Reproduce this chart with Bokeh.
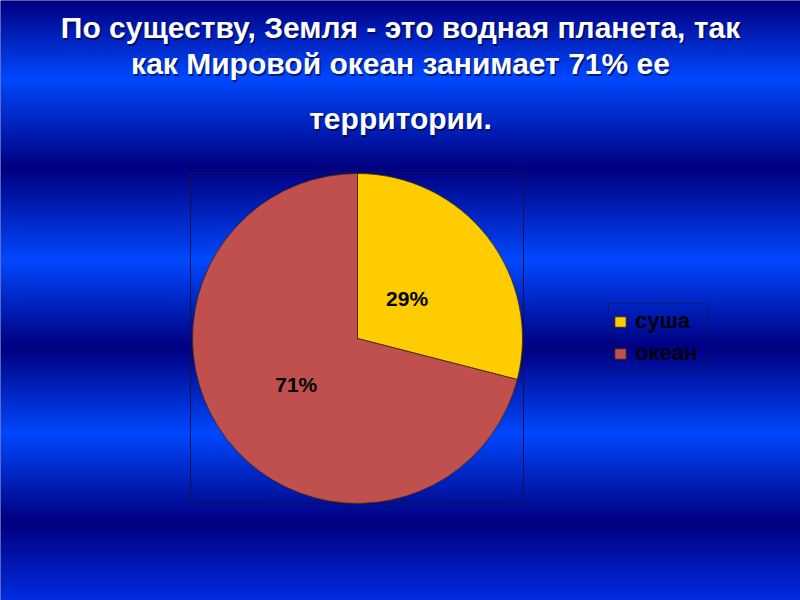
import numpy as np
from bokeh.plotting import figure
from bokeh.models import ColumnDataSource, Range1d
from bokeh.core.properties import value
from bokeh.embed import file_html
from bokeh.resources import INLINE

# ---- data ----
categories = ["суша", "океан"]
percents = [29, 71]
colors = ["#FFCC00", "#C0504D"]
title_lines = ["По существу, Земля - это водная планета, так",
               "как Мировой океан занимает 71% ее",
               "территории."]

W, H = 800, 600
p = figure(width=W, height=H, output_backend="svg", toolbar_location=None,
           x_range=Range1d(0, W), y_range=Range1d(0, H), min_border=0)
p.axis.visible = False
p.grid.visible = False
p.outline_line_color = None
p.background_fill_color = "#000080"
p.border_fill_color = "#000080"

def Y(py):
    return H - py

# ---- background gradient (style) ----
stops_y = [0, 78, 168, 260, 347, 433, 521, 600]
dark = (0, 0, 128)
bright = (0, 72, 255)
mid = (0, 44, 225)
stop_cols = [dark, bright, dark, bright, dark, bright, dark, mid]
rows = np.arange(H)
page_y = H - rows - 0.5
img = np.empty((H, 1), dtype=np.uint32)
view = img.view(dtype=np.uint8).reshape((H, 1, 4))
for c in range(3):
    view[:, 0, c] = np.interp(page_y, stops_y, [s[c] for s in stop_cols]).astype(np.uint8)
view[:, 0, 3] = 255
p.image_rgba(image=[img], x=0, y=0, dw=W, dh=H)

# ---- plot-area box ----
p.quad(left=190, right=523, top=Y(172), bottom=Y(503), fill_alpha=0,
       line_color="#10104a", line_width=1)

# ---- pie ----
cx, cy, R = 357, Y(338), 165
vals = np.array(percents, dtype=float)
frac = vals / vals.sum()
cum = np.concatenate([[0], np.cumsum(frac)])
ang_hi = np.pi / 2 - 2 * np.pi * cum[:-1]
ang_lo = np.pi / 2 - 2 * np.pi * cum[1:]
src = ColumnDataSource(dict(category=categories, start=ang_lo, end=ang_hi, color=colors))
p.wedge(x=cx, y=cy, radius=R, start_angle="start", end_angle="end",
        fill_color="color", line_color="#3a2a10", line_width=0.8,
        legend_field="category", source=src)

mid_ang = (ang_lo + ang_hi) / 2
lab_r = np.array([0.38, 0.47]) * R
lsrc = ColumnDataSource(dict(x=cx + lab_r * np.cos(mid_ang),
                             y=cy + lab_r * np.sin(mid_ang) + 2,
                             t=[f"{v}%" for v in percents]))
p.text(x="x", y="y", text="t", source=lsrc, text_align="center",
       text_baseline="middle", text_font=value("Liberation Sans"),
       text_font_style="bold", text_font_size="21px", text_color="#000000")

# ---- title ----
base_y = [27, 63, 118]
for line, by in zip(title_lines, base_y):
    p.text(x=[401.5], y=[Y(by) - 1.5], text=[line], text_align="center",
           text_baseline="alphabetic", text_font=value("Liberation Sans"),
           text_font_style="bold", text_font_size="30px",
           text_color="#000030", text_alpha=0.6)
    p.text(x=[400], y=[Y(by)], text=[line], text_align="center",
           text_baseline="alphabetic", text_font=value("Liberation Sans"),
           text_font_style="bold", text_font_size="30px", text_color="#FFFFFF")

# ---- legend ----
lg = p.legend[0]
lg.location = (608, Y(371))
lg.orientation = "vertical"
lg.background_fill_alpha = 0
lg.border_line_color = "#10104a"
lg.border_line_width = 1
lg.padding = 4
lg.spacing = 6
lg.margin = 0
lg.glyph_width = 14
lg.glyph_height = 13
lg.label_standoff = 8
lg.label_width = 68
lg.label_text_font = "Liberation Sans"
lg.label_text_font_style = "bold"
lg.label_text_font_size = "22px"
lg.label_text_color = "#000010"

open("out.html", "w").write(file_html(p, INLINE))
